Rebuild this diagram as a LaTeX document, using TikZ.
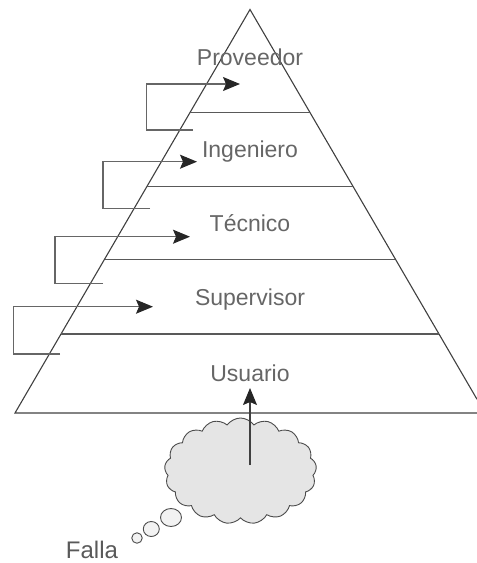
\documentclass[tikz,border=0pt]{standalone}
\usepackage{fontspec}
\setmainfont{Liberation Sans}
\usetikzlibrary{shapes.symbols,shapes.geometric,arrows.meta}
\begin{document}
\begin{tikzpicture}[x=1pt,y=-1pt,
  edge/.style={draw=black!75, line width=1.1pt},
  lbl/.style={font=\fontsize{23}{25}\selectfont, text=black!60, anchor=base, inner sep=0pt},
  flow/.style={draw=black!60, line width=1.1pt, -{Stealth[length=17pt,width=14pt,inset=3pt,color=black!85]}},
  bubble/.style={ellipse, draw=black!70, fill=black!5, line width=0.9pt, inner sep=0pt},
]
\useasboundingbox (0,0) rectangle (477,563);
\begin{scope}
\clip (0,0) rectangle (477,563);
\coordinate (apex) at (250,9.5);
\coordinate (bl) at (15,413);
\coordinate (br) at (485,413);
\path (apex) -- (br) coordinate[pos=0.966] (rcut);
\coordinate (bcut) at (477,413);
\draw[edge, line join=miter] (rcut) -- (apex) -- (bl) -- (bcut);
\foreach \i/\p in {1/0.2558, 2/0.4391, 3/0.6191, 4/0.8042}{
  \path (apex) -- (bl) coordinate[pos=\p] (l\i);
  \path (apex) -- (br) coordinate[pos=\p] (r\i);
  \draw[edge, draw=black!65] (l\i) -- (r\i);
}
\end{scope}
% labels
\node[lbl] (prov) at (250,65) {Proveedor};
\node[lbl] (ing) at (250,157.5) {Ingeniero};
\node[lbl] (tec) at (250,231.7) {Técnico};
\node[lbl] (sup) at (250,305.7) {Supervisor};
\node[lbl] (usu) at (250,381.7) {Usuario};
% feedback brackets
\coordinate (a1s) at (193,130);   \coordinate (a1c) at (146.7,84);  \coordinate (a1e) at (240,84);
\coordinate (a2s) at (150,208.3); \coordinate (a2c) at (103,161.7); \coordinate (a2e) at (197,161.7);
\coordinate (a3s) at (103,283.3); \coordinate (a3c) at (55,236.7);  \coordinate (a3e) at (190,236.7);
\coordinate (a4s) at (60,354);    \coordinate (a4c) at (13.3,306.7);\coordinate (a4e) at (153,306.7);
\foreach \i in {1,2,3,4}{
  \draw[flow] (a\i s) -| (a\i c) -- (a\i e);
}
% cloud
\node[cloud, cloud puffs=17, cloud puff arc=110, aspect=1.45, minimum width=152pt, minimum height=106pt,
      draw=black!70, fill=black!10, line width=0.9pt] (cloud) at (240.5,471) {};
\coordinate (src) at (250,465);
\coordinate (utip) at (250,388);
\draw[flow, draw=black!75] (src) -- (utip);
% thought bubbles
\node[bubble, minimum width=21pt, minimum height=18pt] (b1) at (171,517.5) {};
\node[bubble, minimum width=16pt, minimum height=15pt] (b2) at (151.3,529) {};
\node[bubble, minimum width=10.5pt, minimum height=10.5pt] (b3) at (137,538) {};
\node[lbl, text=black!65, font=\fontsize{24}{26}\selectfont] (falla) at (92,558.5) {Falla};
\end{tikzpicture}
\end{document}
